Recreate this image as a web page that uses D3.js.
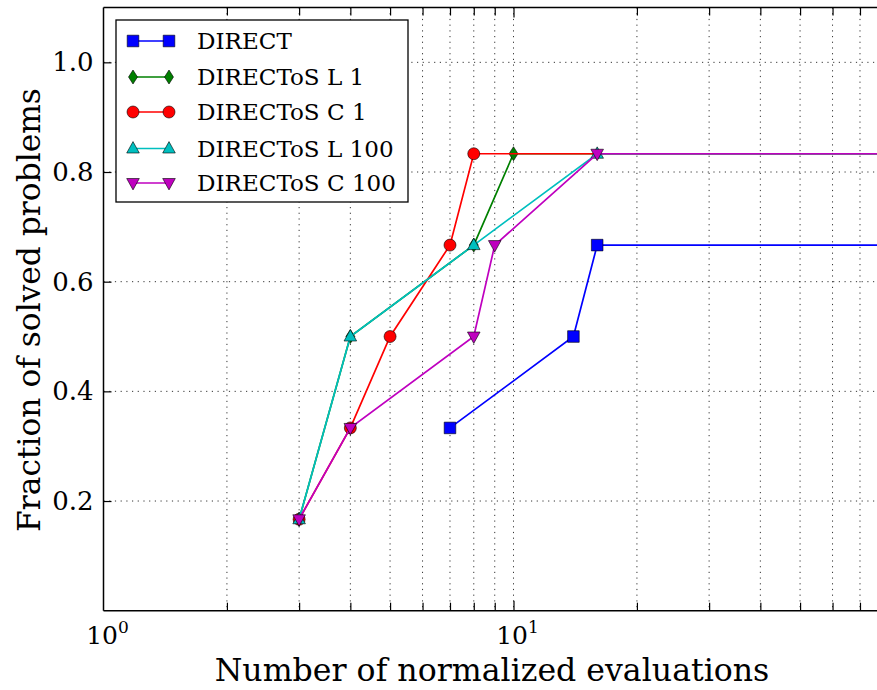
<!DOCTYPE html>
<html>
<head>
<meta charset="utf-8">
<script src="https://cdn.jsdelivr.net/npm/d3@7"></script>
<style>
html,body{margin:0;padding:0;background:#fff;}
svg{display:block;}
</style>
</head>
<body>
<svg id="chart" width="877" height="690"></svg>
<script>
// ---- data ----
const seriesNames = ["DIRECT", "DIRECToS L 1", "DIRECToS C 1", "DIRECToS L 100", "DIRECToS C 100"];
const seriesColors = ["#0000ff", "#008000", "#ff0000", "#00bfbf", "#bf00bf"];
const seriesMarkers = ["square", "diamond", "circle", "triangleUp", "triangleDown"];
const directX   = [7, 14, 16, 100];
const directY   = [0.3333, 0.5, 0.6667, 0.6667];
const l1X       = [3, 4, 8, 10, 100];
const l1Y       = [0.1667, 0.5, 0.6667, 0.8333, 0.8333];
const c1X       = [3, 4, 5, 7, 8, 100];
const c1Y       = [0.1667, 0.3333, 0.5, 0.6667, 0.8333, 0.8333];
const l100X     = [3, 4, 8, 16, 100];
const l100Y     = [0.1667, 0.5, 0.6667, 0.8333, 0.8333];
const c100X     = [3, 4, 8, 9, 16, 100];
const c100Y     = [0.1667, 0.3333, 0.5, 0.6667, 0.8333, 0.8333];
const markerCount = [3, 4, 5, 4, 5]; // last point of each list is the line running off the plot
const yTickValues = [0.2, 0.4, 0.6, 0.8, 1.0];
const xMajorTicks = [1, 10];
const xMinorTicks = [2, 3, 4, 5, 6, 7, 8, 9, 20, 30, 40, 50, 60, 70, 80, 90];
const xLabel = "Number of normalized evaluations";
const yLabel = "Fraction of solved problems";

const seriesX = [directX, l1X, c1X, l100X, c100X];
const seriesY = [directY, l1Y, c1Y, l100Y, c100Y];

// ---- layout ----
const svg = d3.select("#chart");
const pLeft = 103.5, pTop = 7.5, pBottom = 610.7, rightEdge = 877;
const decade = 410;
const xMax = Math.pow(10, (rightEdge + 5 - pLeft) / decade);
const x = d3.scaleLog().domain([1, xMax]).range([pLeft, rightEdge + 5]);
const y = d3.scaleLinear().domain([0, 1.1]).range([pBottom, pTop]);
const FONT = "DejaVu Serif, Liberation Serif, serif";

function fitText(sel, target) {
  const w = sel.node().getComputedTextLength();
  const fs = parseFloat(sel.attr("font-size"));
  const nfs = fs * target / w;
  sel.attr("font-size", nfs);
  return nfs;
}

svg.append("defs").append("clipPath").attr("id", "clip")
  .append("rect").attr("x", pLeft).attr("y", pTop).attr("width", rightEdge - pLeft + 10).attr("height", pBottom - pTop);

// grid
const grid = svg.append("g").attr("stroke", "#000").attr("stroke-width", 0.8)
  .attr("stroke-dasharray", "1.2,4.5");
grid.selectAll("line.gy").data(yTickValues).join("line").attr("class", "gy")
  .attr("x1", pLeft).attr("x2", rightEdge + 5)
  .attr("y1", d => y(d)).attr("y2", d => y(d));
grid.selectAll("line.gx").data(xMajorTicks.concat(xMinorTicks).filter(d => d > 1 && x(d) < rightEdge)).join("line").attr("class", "gx")
  .attr("x1", d => x(d)).attr("x2", d => x(d))
  .attr("y1", pTop).attr("y2", pBottom);

// axes via d3 axis (inward ticks)
const yAxis = d3.axisLeft(y).tickValues(yTickValues).tickFormat(d3.format(".1f")).tickSizeInner(-8).tickSizeOuter(0).tickPadding(9);
const gy = svg.append("g").attr("transform", `translate(${pLeft},0)`).call(yAxis);
gy.select(".domain").remove();
gy.selectAll("line").attr("stroke", "#000").attr("stroke-width", 1.2);
gy.selectAll("text").attr("font-family", FONT).attr("font-size", 26).attr("fill", "#000").attr("dx", -1);

const visTicks = xMajorTicks.concat(xMinorTicks).filter(d => x(d) < rightEdge);
const xAxisB = d3.axisBottom(x).tickValues(visTicks.filter(d=>d>1)).tickFormat("").tickSizeInner(-8).tickSizeOuter(0);
const gxb = svg.append("g").attr("transform", `translate(0,${pBottom})`).call(xAxisB);
gxb.select(".domain").remove();
gxb.selectAll("line").attr("stroke", "#000").attr("stroke-width", 1.2)
  .attr("y2", d => xMajorTicks.includes(d) ? -10 : -8);
const xAxisT = d3.axisTop(x).tickValues(visTicks.filter(d=>d>1)).tickFormat("").tickSizeInner(-8).tickSizeOuter(0);
const gxt = svg.append("g").attr("transform", `translate(0,${pTop})`).call(xAxisT);
gxt.select(".domain").remove();
gxt.selectAll("line").attr("stroke", "#000").attr("stroke-width", 1.2)
  .attr("y2", d => xMajorTicks.includes(d) ? 10 : 8);

// spines
svg.append("line").attr("x1", pLeft).attr("x2", rightEdge + 5).attr("y1", pBottom).attr("y2", pBottom).attr("stroke", "#000").attr("stroke-width", 1.5);
svg.append("line").attr("x1", pLeft).attr("x2", rightEdge + 5).attr("y1", pTop).attr("y2", pTop).attr("stroke", "#000").attr("stroke-width", 1.5);
svg.append("line").attr("x1", pLeft).attr("x2", pLeft).attr("y1", pTop).attr("y2", pBottom).attr("stroke", "#000").attr("stroke-width", 1.5);

// x tick labels 10^0, 10^1
xMajorTicks.forEach((v, i) => {
  const t = svg.append("text").attr("font-family", FONT).attr("font-size", 25).attr("fill", "#000")
    .attr("y", 644).attr("text-anchor", "middle").attr("x", x(v) + 4);
  t.append("tspan").text("10");
  t.append("tspan").attr("font-size", 17).attr("dy", -11).text(String(Math.round(Math.log10(v))));
});

// markers
function markerPath(kind, s) {
  switch (kind) {
    case "square": return `M${-s},${-s}H${s}V${s}H${-s}Z`;
    case "diamond": return `M0,${-s*1.25}L${s*0.8},0L0,${s*1.25}L${-s*0.8},0Z`;
    case "circle": return d3.symbol(d3.symbolCircle, Math.PI * s * s)();
    case "triangleUp": return `M0,${-s*1.15}L${s*1.05},${s*0.75}L${-s*1.05},${s*0.75}Z`;
    case "triangleDown": return `M0,${s*1.15}L${s*1.05},${-s*0.75}L${-s*1.05},${-s*0.75}Z`;
  }
}
const markerSize = [5.8, 5.6, 6.0, 6.0, 6.0];

const plot = svg.append("g").attr("clip-path", "url(#clip)");
const line = d3.line().x(d => x(d[0])).y(d => y(d[1]));
seriesNames.forEach((name, i) => {
  const pts = seriesX[i].map((xv, j) => [xv, seriesY[i][j]]);
  const g = plot.append("g");
  g.append("path").attr("d", line(pts)).attr("fill", "none").attr("stroke", seriesColors[i]).attr("stroke-width", 1.7);
  g.selectAll("path.m").data(pts.slice(0, markerCount[i])).join("path").attr("class", "m")
    .attr("transform", d => `translate(${x(d[0])},${y(d[1])})`)
    .attr("d", markerPath(seriesMarkers[i], markerSize[i]))
    .attr("fill", seriesColors[i]).attr("stroke", "#000").attr("stroke-width", 0.6);
});

// legend
const lg = svg.append("g");
lg.append("rect").attr("x", 116).attr("y", 20).attr("width", 292).attr("height", 182)
  .attr("fill", "#fff").attr("stroke", "#000").attr("stroke-width", 1.3);
const rowY = [41, 77, 112, 148.5, 183];
// measure widest legend entry to fit the reference's width
const probe = lg.append("text").attr("font-family", FONT).attr("font-size", 20).text(seriesNames[4]);
const legendFs = fitText(probe, 199);
probe.remove();
seriesNames.forEach((name, i) => {
  const yy = rowY[i];
  lg.append("line").attr("x1", 133).attr("x2", 169).attr("y1", yy).attr("y2", yy)
    .attr("stroke", seriesColors[i]).attr("stroke-width", 1.7);
  [133, 169].forEach(xx => lg.append("path").attr("transform", `translate(${xx},${yy})`)
    .attr("d", markerPath(seriesMarkers[i], markerSize[i])).attr("fill", seriesColors[i])
    .attr("stroke", "#000").attr("stroke-width", 0.6));
  lg.append("text").attr("x", 197).attr("y", yy + 8).attr("font-family", FONT).attr("font-size", legendFs)
    .attr("fill", "#000").text(name);
});

// axis labels
const xl = svg.append("text").attr("x", 492).attr("y", 681).attr("text-anchor", "middle")
  .attr("font-family", FONT).attr("font-size", 30).attr("fill", "#000").text(xLabel);
fitText(xl, 555);
const yl = svg.append("text").attr("transform", `translate(40,${310}) rotate(-90)`).attr("text-anchor", "middle")
  .attr("font-family", FONT).attr("font-size", 30).attr("fill", "#000").text(yLabel);
fitText(yl, 444);
</script>
</body>
</html>
